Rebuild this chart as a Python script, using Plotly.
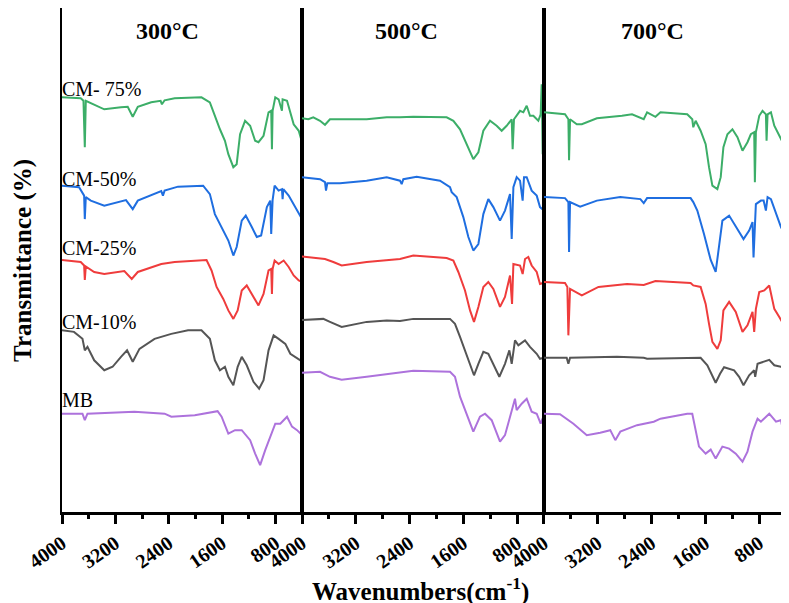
import plotly.graph_objects as go
from plotly.subplots import make_subplots

# ---------------- data (wavenumber cm-1, transmittance a.u. with offsets) -------------
series_names = ["CM- 75%", "CM-50%", "CM-25%", "CM-10%", "MB"]
panel_titles = ["300\u00b0C", "500\u00b0C", "700\u00b0C"]
tick_values = [4000, 3200, 2400, 1600, 800]
tick_labels = ["4000", "3200", "2400", "1600", "800"]
colors = ["#3cae68", "#1f6ee0", "#ef3c3c", "#555555", "#ad72dc"]
label_levels = [84.8, 66.8, 53.0, 38.0, 22.4]

# ---- 300 C
p300_cm75_wn = [4000, 3719, 3678, 3658, 3643, 3593, 3467, 3366, 3115, 3014, 2939, 2863, 2662, 2521, 2501, 2461, 2310, 1908, 1782, 1707, 1631, 1556, 1505, 1430, 1380, 1329, 1254, 1178, 1103, 1053, 977, 902, 862, 851, 841, 801, 751, 701, 691, 625, 525, 449, 400]
p300_cm75_t = [83.1, 82.9, 82.4, 73.1, 82.4, 82.1, 81.2, 80.7, 81.1, 81.2, 79.2, 81.2, 82.1, 82.4, 81.7, 82.5, 82.9, 83.1, 82.1, 79.4, 76.7, 74.4, 71.7, 69.1, 69.7, 75.7, 78.4, 77.4, 74.4, 74.1, 75.4, 80.1, 80.4, 72.7, 80.4, 83.1, 82.7, 80.4, 82.7, 82.4, 77.7, 76.4, 74.1]

p300_cm50_wn = [4000, 3744, 3668, 3658, 3643, 3568, 3366, 3040, 2939, 2863, 2511, 2486, 2461, 2260, 1883, 1782, 1707, 1606, 1505, 1430, 1380, 1304, 1244, 1153, 1078, 1013, 927, 876, 862, 841, 811, 751, 701, 691, 680, 600, 499, 400]
p300_cm50_t = [65.4, 65.1, 63.4, 58.7, 63.1, 62.4, 61.4, 62.5, 60.7, 62.4, 64.3, 63.4, 64.4, 65.2, 65.4, 63.7, 59.7, 57.1, 54.4, 51.4, 53.1, 58.4, 59.4, 57.1, 55.1, 55.4, 61.1, 62.4, 55.7, 62.5, 65.4, 64.4, 64.7, 62.7, 64.7, 63.4, 61.1, 58.7]

p300_cm25_wn = [4000, 3719, 3668, 3658, 3643, 3517, 3366, 3065, 2954, 2863, 2511, 2310, 1832, 1757, 1681, 1581, 1505, 1430, 1365, 1304, 1229, 1153, 1053, 977, 902, 862, 851, 841, 811, 751, 675, 600, 525, 449, 400]
p300_cm25_t = [50.5, 50.1, 49.4, 46.5, 49.2, 48.1, 47.7, 48.3, 46.7, 48.1, 49.7, 50.1, 50.5, 48.4, 45.1, 42.7, 40.4, 38.7, 40.4, 44.4, 45.4, 43.7, 41.4, 43.7, 48.4, 48.7, 43.7, 48.7, 50.4, 49.7, 50.4, 49.1, 47.4, 46.4, 46.1]

p300_cm10_wn = [4000, 3820, 3693, 3658, 3618, 3517, 3366, 3241, 3115, 3024, 2939, 2838, 2612, 2361, 2109, 1908, 1782, 1707, 1631, 1556, 1505, 1430, 1365, 1304, 1229, 1128, 1043, 977, 902, 826, 751, 650, 575, 499, 424]
p300_cm10_t = [36.4, 36.1, 34.7, 32.4, 33.1, 30.4, 28.4, 29.1, 31.1, 32.4, 30.1, 32.7, 34.7, 35.7, 36.4, 36.4, 34.7, 30.4, 28.4, 29.1, 27.1, 25.4, 29.1, 31.1, 29.4, 26.1, 24.7, 26.4, 32.4, 35.4, 34.7, 33.7, 31.7, 31.1, 30.4]

p300_mb_wn = [4000, 3693, 3658, 3618, 2914, 2461, 2360, 2009, 1666, 1606, 1505, 1405, 1304, 1178, 1103, 1028, 952, 877, 801, 726, 625, 550, 474, 400]
p300_mb_t = [19.7, 19.7, 18.4, 19.7, 20.1, 19.7, 19.1, 19.4, 20.2, 19.1, 15.7, 16.4, 16.4, 14.4, 11.7, 9.4, 12.4, 15.1, 17.7, 17.7, 19.1, 17.1, 16.4, 15.4]

# ---- 500 C
p500_cm75_wn = [4000, 3906, 3832, 3732, 3658, 3584, 3038, 2740, 2542, 2344, 1848, 1748, 1649, 1550, 1451, 1376, 1302, 1203, 1104, 1029, 955, 880, 866, 846, 756, 707, 657, 608, 558, 484, 449, 434, 419, 400]
p500_cm75_t = [78.9, 78.7, 79.1, 78.4, 77.6, 78.7, 78.7, 79.1, 79.1, 79.2, 79.1, 78.4, 76.7, 73.7, 70.7, 72.1, 76.4, 78.4, 77.4, 76.4, 77.4, 78.7, 72.7, 78.7, 80.4, 80.1, 81.4, 79.4, 79.4, 78.4, 79.7, 85.7, 71.7, 80.4]

p500_cm50_wn = [4000, 3732, 3658, 3643, 3623, 3435, 3038, 2740, 2542, 2517, 2492, 2294, 1947, 1798, 1773, 1699, 1600, 1525, 1451, 1376, 1302, 1228, 1153, 1054, 980, 905, 880, 855, 806, 756, 717, 697, 657, 583, 508, 459, 400]
p500_cm50_t = [67.1, 66.7, 66.1, 64.4, 65.9, 65.9, 66.4, 67.1, 66.4, 65.7, 66.7, 67.2, 66.4, 65.1, 64.1, 63.1, 59.1, 55.1, 52.4, 53.7, 59.7, 62.7, 61.1, 58.4, 60.4, 63.7, 54.7, 65.1, 67.1, 66.4, 62.4, 67.1, 67.1, 64.4, 63.4, 61.1, 60.4]

p500_cm25_wn = [4000, 3658, 3534, 3410, 3038, 2542, 2344, 1848, 1748, 1674, 1575, 1500, 1441, 1376, 1302, 1228, 1153, 1054, 980, 905, 875, 855, 756, 717, 682, 633, 583, 508, 459, 415, 405, 400]
p500_cm25_t = [51.2, 50.7, 50.1, 49.4, 50.1, 50.7, 51.4, 50.9, 50.4, 48.1, 44.4, 40.4, 38.1, 41.1, 45.1, 46.1, 44.7, 41.1, 43.1, 47.4, 41.7, 49.7, 49.4, 47.7, 50.7, 51.1, 49.4, 48.1, 45.7, 45.9, 36.0, 45.9]

p500_cm10_wn = [4000, 3683, 3584, 3410, 3038, 2740, 2542, 2344, 1798, 1724, 1649, 1575, 1500, 1441, 1376, 1302, 1228, 1153, 1064, 980, 915, 880, 831, 781, 682, 608, 508, 459, 400]
p500_cm10_t = [38.5, 38.7, 38.1, 37.1, 38.1, 38.4, 38.3, 38.7, 38.7, 37.7, 35.1, 32.4, 29.7, 27.4, 29.7, 32.1, 31.7, 29.7, 27.1, 29.7, 32.4, 29.7, 34.4, 33.4, 34.4, 33.1, 31.7, 30.7, 30.9]

p500_mb_wn = [4000, 3732, 3584, 3410, 3038, 2542, 2344, 1798, 1724, 1649, 1550, 1451, 1352, 1277, 1178, 1054, 980, 905, 831, 806, 731, 657, 583, 508, 449, 409, 400]
p500_mb_t = [27.9, 28.1, 27.1, 26.5, 27.1, 27.9, 28.3, 28.1, 27.1, 23.1, 19.7, 16.1, 19.1, 19.7, 18.4, 14.1, 15.4, 19.1, 22.7, 20.4, 21.7, 22.7, 20.1, 19.7, 17.7, 19.1, 16.0]

# ---- 700 C
p700_cm75_wn = [4000, 3687, 3637, 3627, 3612, 3512, 3437, 3213, 2840, 2690, 2516, 2466, 2342, 2267, 1869, 1794, 1779, 1744, 1670, 1595, 1545, 1495, 1421, 1371, 1331, 1271, 1197, 1122, 1047, 973, 923, 873, 863, 848, 798, 749, 699, 689, 674, 624, 574, 524, 450, 400]
p700_cm75_t = [80.1, 79.7, 78.7, 70.5, 78.7, 77.7, 77.7, 78.9, 79.4, 79.7, 78.7, 80.1, 79.2, 80.1, 79.7, 78.7, 77.1, 78.4, 76.4, 73.7, 69.1, 65.4, 64.7, 67.1, 73.1, 75.7, 76.7, 75.1, 72.4, 74.1, 75.7, 76.1, 66.1, 76.1, 79.4, 80.4, 79.7, 74.4, 79.7, 80.1, 77.4, 76.1, 74.1, 72.4]

p700_cm50_wn = [4000, 3687, 3637, 3627, 3612, 3462, 3213, 2865, 2566, 2516, 2466, 1819, 1779, 1719, 1620, 1520, 1446, 1346, 1246, 1147, 1032, 948, 898, 883, 848, 773, 733, 699, 674, 624, 549, 475, 400]
p700_cm50_t = [63.1, 62.9, 62.1, 52.1, 62.1, 61.2, 62.4, 63.1, 62.7, 61.9, 62.9, 62.9, 62.1, 60.4, 55.7, 50.5, 48.1, 58.4, 59.4, 57.1, 54.7, 56.4, 58.1, 51.0, 61.7, 62.4, 62.4, 60.4, 63.1, 62.7, 59.7, 57.1, 55.1]

p700_cm25_wn = [4000, 3687, 3652, 3637, 3612, 3437, 3189, 2765, 2516, 2342, 1819, 1779, 1670, 1595, 1545, 1495, 1421, 1371, 1331, 1246, 1147, 1047, 973, 898, 873, 848, 798, 723, 649, 574, 500, 400]
p700_cm25_t = [46.1, 45.9, 45.1, 35.4, 44.7, 43.4, 45.1, 45.7, 45.5, 46.3, 45.9, 45.4, 45.1, 41.7, 37.7, 34.1, 32.7, 34.4, 40.4, 42.1, 40.1, 36.1, 37.4, 40.1, 36.1, 40.7, 44.1, 44.4, 45.4, 40.7, 39.1, 36.7]

p700_cm10_wn = [4000, 3662, 3637, 3612, 2915, 2516, 2466, 1670, 1570, 1495, 1446, 1381, 1321, 1172, 1097, 1032, 948, 873, 858, 823, 749, 649, 574, 475, 400]
p700_cm10_t = [30.9, 30.9, 29.7, 30.9, 31.1, 30.9, 30.7, 30.9, 29.4, 27.1, 25.9, 27.7, 29.0, 28.4, 27.1, 25.4, 27.4, 28.4, 27.1, 29.7, 30.1, 30.5, 29.4, 29.1, 28.4]

p700_mb_wn = [4000, 3761, 3562, 3363, 3164, 3014, 2939, 2865, 2616, 2367, 2267, 1869, 1794, 1744, 1694, 1595, 1520, 1446, 1346, 1246, 1147, 1047, 973, 898, 823, 773, 649, 549, 475, 450, 400]
p700_mb_t = [19.7, 19.6, 17.7, 15.4, 15.9, 16.4, 14.4, 16.1, 17.4, 18.1, 18.7, 19.7, 19.7, 16.4, 13.1, 11.7, 12.5, 10.7, 13.1, 12.7, 11.7, 10.1, 12.1, 16.1, 18.7, 18.1, 19.7, 18.1, 18.4, 16.7, 18.4]

panels = [
    [(p300_cm75_wn, p300_cm75_t), (p300_cm50_wn, p300_cm50_t), (p300_cm25_wn, p300_cm25_t),
     (p300_cm10_wn, p300_cm10_t), (p300_mb_wn, p300_mb_t)],
    [(p500_cm75_wn, p500_cm75_t), (p500_cm50_wn, p500_cm50_t), (p500_cm25_wn, p500_cm25_t),
     (p500_cm10_wn, p500_cm10_t), (p500_mb_wn, p500_mb_t)],
    [(p700_cm75_wn, p700_cm75_t), (p700_cm50_wn, p700_cm50_t), (p700_cm25_wn, p700_cm25_t),
     (p700_cm10_wn, p700_cm10_t), (p700_mb_wn, p700_mb_t)],
]
title_positions = [2415, 2450, 2390]

# ---------------- figure ----------------
FONT = "Liberation Serif, Times New Roman, serif"
fig = make_subplots(rows=1, cols=3, shared_yaxes=True, horizontal_spacing=0)

for c, panel in enumerate(panels, start=1):
    for i, (wn, t) in enumerate(panel):
        fig.add_trace(go.Scatter(x=wn, y=t, mode="lines", name=series_names[i],
                                 line=dict(color=colors[i], width=2), showlegend=False),
                      row=1, col=c)
    fig.update_xaxes(
        range=[4000, 400], tickmode="array", tickvals=tick_values, ticktext=tick_labels,
        ticks="outside", ticklen=9, tickwidth=3, tickcolor="black",
        minor=dict(tickmode="array", tickvals=[3600, 2800, 2000, 1200, 400], ticks="outside",
                   ticklen=4, tickwidth=3, tickcolor="black"),
        tickangle=-35, tickfont=dict(family=FONT, size=20, color="black", weight="bold"),
        showline=True, mirror=True, linecolor="black", linewidth=3, automargin=False,
        showgrid=False, zeroline=False, row=1, col=c)
    fig.update_yaxes(range=[0, 101], showticklabels=False, ticks="", showgrid=False,
                     zeroline=False, showline=True, mirror=True, linecolor="black",
                     linewidth=2, automargin=False, row=1, col=c)

annotations = []
xrefs = ["x", "x2", "x3"]
for xr, xp, title in zip(xrefs, title_positions, panel_titles):
    annotations.append(dict(x=xp, y=96.4, xref=xr, yref="y", text="<b>%s</b>" % title,
                            showarrow=False, font=dict(family=FONT, size=24, color="black"),
                            xanchor="center", yanchor="middle"))
for name, lvl in zip(series_names, label_levels):
    annotations.append(dict(x=4000, y=lvl, xref="x", yref="y", text=name, showarrow=False,
                            font=dict(family=FONT, size=20, color="black"),
                            xanchor="left", yanchor="middle", xshift=-2))
annotations.append(dict(x=0.495, y=-0.153, xref="paper", yref="paper",
                        text="<b>Wavenumbers(cm<sup>-1</sup>)</b>", showarrow=False,
                        font=dict(family=FONT, size=25, color="black"),
                        xanchor="center", yanchor="middle"))
annotations.append(dict(x=-0.054, y=0.5, xref="paper", yref="paper",
                        text="<b>Transmittance (%)</b>", showarrow=False, textangle=-90,
                        font=dict(family=FONT, size=25, color="black"),
                        xanchor="center", yanchor="middle"))

fig.update_xaxes(domain=[0, 0.3315], row=1, col=1)
fig.update_xaxes(domain=[0.3315, 0.6657], row=1, col=2)
fig.update_xaxes(domain=[0.6657, 1.0], row=1, col=3)

# the page places the figure 8 px in from the top-left corner
fig.update_layout(width=781, height=595, margin=dict(l=54, r=3, t=0, b=91, autoexpand=False),
                  plot_bgcolor="white", paper_bgcolor="white", annotations=annotations,
                  showlegend=False)

fig.write_html("out.html")
